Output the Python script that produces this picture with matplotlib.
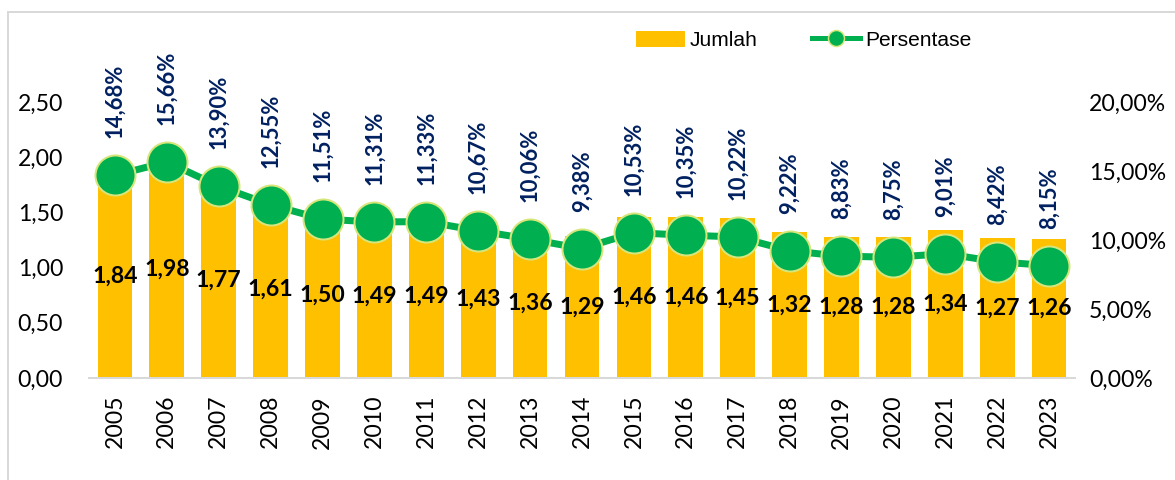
import numpy as np
import matplotlib
matplotlib.use("Agg")
import matplotlib.pyplot as plt
import matplotlib.patches as mpatches
from matplotlib.lines import Line2D
from matplotlib.ticker import FuncFormatter

plt.rcParams["font.family"] = ["Lato", "DejaVu Sans"]

tahun = ["2005", "2006", "2007", "2008", "2009", "2010", "2011", "2012", "2013", "2014",
         "2015", "2016", "2017", "2018", "2019", "2020", "2021", "2022", "2023"]
jumlah = [1.84, 1.98, 1.77, 1.61, 1.50, 1.49, 1.49, 1.43, 1.36, 1.29,
          1.46, 1.46, 1.45, 1.32, 1.28, 1.28, 1.34, 1.27, 1.26]
persen = [14.68, 15.66, 13.90, 12.55, 11.51, 11.31, 11.33, 10.67, 10.06, 9.38,
          10.53, 10.35, 10.22, 9.22, 8.83, 8.75, 9.01, 8.42, 8.15]

kuning = "#ffc000"
hijau = "#00b050"
tepi = "#d7e67a"
navy = "#002060"

def koma(v, d=2):
    return f"{v:.{d}f}".replace(".", ",")

W, H = 1175, 480
fig = plt.figure(figsize=(W / 72, H / 72), dpi=72)
fig.patches.append(mpatches.Rectangle((8 / W, -0.1), 1.2, 1 - 12 / H + 0.1,
                                      transform=fig.transFigure, fill=False,
                                      edgecolor="#d9d9d9", linewidth=2))

ax = fig.add_axes([89 / W, 102 / H, (1075 - 89) / W, (378 - 102) / H])
x = np.arange(len(tahun))
bars = ax.bar(x, jumlah, width=0.67, color=kuning, zorder=2)
ax.bar_label(bars, labels=[koma(v) for v in jumlah], label_type="center",
             fontsize=23, fontweight="bold", color="black", zorder=5)
ax.set_ylim(0, 2.5)
ax.set_xlim(-0.5, len(tahun) - 0.5)
ax.set_yticks(np.arange(0, 2.51, 0.5))
ax.yaxis.set_major_formatter(FuncFormatter(lambda v, p: koma(v)))
ax.set_xticks(x)
ax.set_xticklabels(tahun, rotation=90, fontsize=23)
ax.tick_params(axis="x", length=0, labelsize=23, pad=17)
ax.tick_params(axis="y", length=0, labelsize=23, pad=26)
for s in ["top", "left", "right"]:
    ax.spines[s].set_visible(False)
ax.spines["bottom"].set_color("#d9d9d9")
ax.spines["bottom"].set_linewidth(2)

ax2 = ax.twinx()
ax2.plot(x, persen, color=hijau, linewidth=7, marker="o", markersize=40,
         markerfacecolor=hijau, markeredgecolor=tepi, markeredgewidth=2, zorder=4)
ax2.set_ylim(0, 20)
ax2.set_yticks(np.arange(0, 20.1, 5))
ax2.yaxis.set_major_formatter(FuncFormatter(lambda v, p: koma(v) + "%"))
ax2.tick_params(axis="y", length=0, labelsize=23, pad=14)
for s in ["top", "left", "right", "bottom"]:
    ax2.spines[s].set_visible(False)
for xi, p in zip(x, persen):
    ax2.annotate(koma(p) + "%", (xi, p), xytext=(0, 37), textcoords="offset points",
                 rotation=90, ha="center", va="bottom", fontsize=22, fontweight="bold",
                 color=navy, annotation_clip=False)

handles = [mpatches.Patch(color=kuning, label="Jumlah"),
           Line2D([0], [0], color=hijau, linewidth=5, marker="o", markersize=16,
                  markerfacecolor=hijau, markeredgecolor=tepi, markeredgewidth=1.5,
                  label="Persentase")]
fig.legend(handles=handles, loc="center left", bbox_to_anchor=(636 / W, 1 - 40 / H),
           ncol=2, frameon=False, handlelength=2.3, columnspacing=2.6,
           handletextpad=0.25, borderpad=0, borderaxespad=0,
           prop={"family": ["Liberation Sans Narrow", "Liberation Sans"], "size": 21})

fig.savefig("out.png", dpi=72)
